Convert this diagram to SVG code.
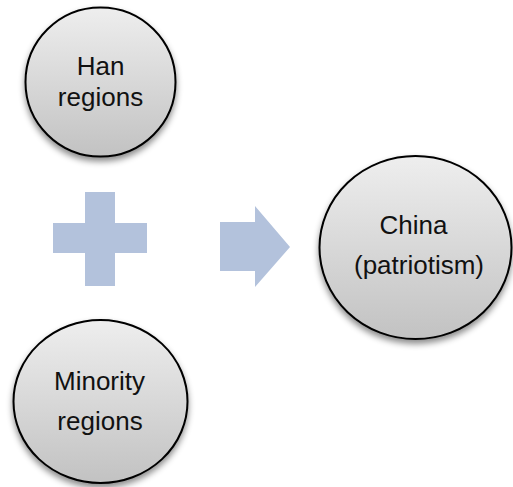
<svg xmlns="http://www.w3.org/2000/svg" width="513" height="487" viewBox="0 0 513 487">
<defs>
<linearGradient id="g" x1="0" y1="0" x2="0" y2="1">
<stop offset="0" stop-color="#eeeeee"/>
<stop offset="1" stop-color="#c2c2c2"/>
</linearGradient>
<filter id="sh" x="-20%" y="-20%" width="140%" height="150%">
<feDropShadow dx="0" dy="4" stdDeviation="3" flood-color="#000" flood-opacity="0.45"/>
</filter>
</defs>
<style>
.n{fill:url(#g);stroke:#000;stroke-width:2;filter:url(#sh)}
.t{font-family:"Liberation Sans",Arial,sans-serif;font-size:26px;fill:#111;text-anchor:middle}
.s{fill:#b3c2dc}
</style>
<g id="han">
<ellipse class="n" cx="100.5" cy="82" rx="75" ry="74.5"/>
<text class="t" x="100.5" y="75">Han</text>
<text class="t" x="100.5" y="106">regions</text>
</g>
<g id="minority">
<ellipse class="n" cx="100.5" cy="401.5" rx="87" ry="81.5"/>
<text class="t" x="99.5" y="390">Minority</text>
<text class="t" x="100" y="430">regions</text>
</g>
<g id="china">
<ellipse class="n" cx="415.5" cy="247.5" rx="96" ry="91.5"/>
<text class="t" x="413.5" y="234">China</text>
<text class="t" x="419" y="274">(patriotism)</text>
</g>
<g id="connectors">
<path class="s" d="M85 192H115V223H147V253H115V286H85V253H53V223H85Z"/>
<path class="s" d="M220 222H255V206L290 247L255 287V271H220Z"/>
</g>
</svg>
